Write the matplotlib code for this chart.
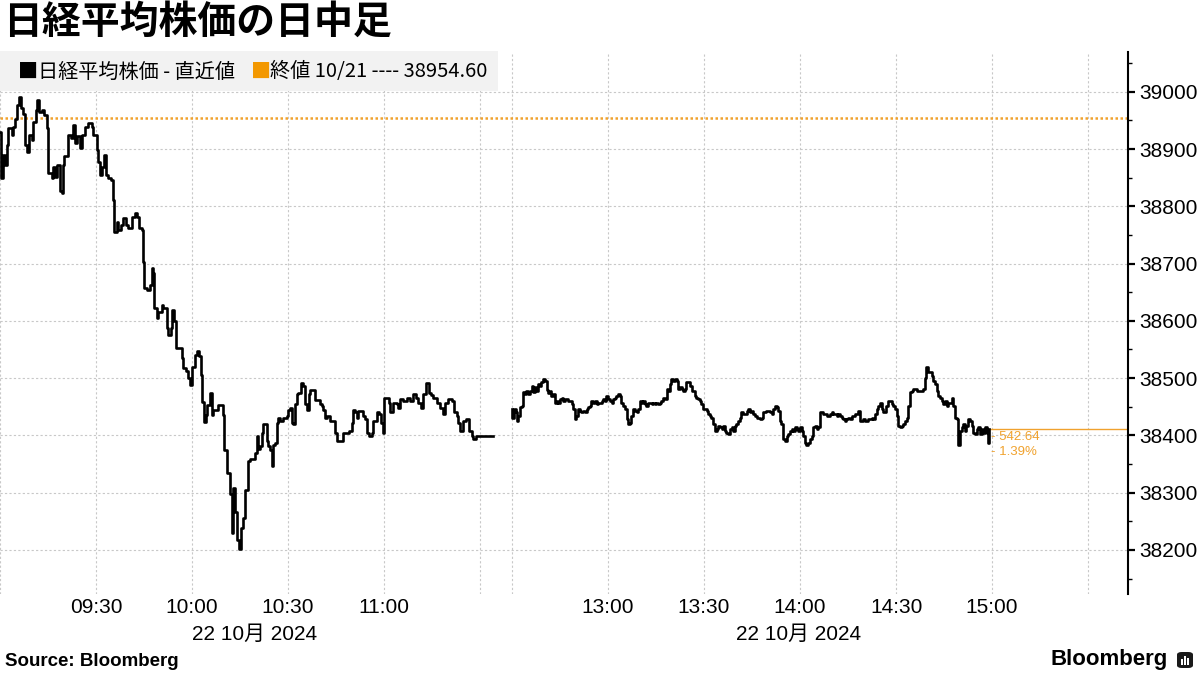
import matplotlib.pyplot as plt
from matplotlib.patches import Rectangle, FancyBboxPatch

# 前日終値と直近値
prev_close = 38954.60
last_price = 38411.96

# 前場: 9:00からの経過分, 株価
am_min = [0.0, 0.4, 1.0, 1.6, 2.3, 2.6, 3.6, 4.2, 4.7, 5.2, 5.9, 6.5, 7.3, 7.8, 8.5, 9.1, 9.9,
          10.4, 11.1, 11.7, 12.3, 13.0, 13.9, 14.6, 15.1, 16.1, 16.7, 17.2, 17.9, 18.8, 19.3, 19.6,
          20.0, 21.4, 22.1, 22.9, 23.4, 24.2, 25.0, 25.5, 26.6, 27.6, 28.6, 29.2, 30.2, 30.7, 31.3,
          31.8, 32.5, 33.1, 33.9, 34.7, 35.2, 35.7, 36.5, 37.0, 37.7, 38.5, 39.4, 40.1, 41.1, 42.2,
          42.9, 43.5, 44.3, 44.8, 45.1, 45.8, 46.9, 47.4, 47.9, 48.2, 49.0, 49.5, 50.5, 51.0, 52.1,
          52.6, 53.3, 53.9, 54.4, 54.9, 56.3, 56.8, 57.3, 58.1, 58.9, 59.4, 59.9, 60.9, 61.5, 62.2,
          62.7, 63.2, 63.8, 64.3, 64.8, 65.6, 66.1, 66.7, 68.2, 69.6, 70.0, 70.8, 71.9, 72.4, 72.9,
          73.4, 74.0, 74.8, 75.2, 76.0, 76.6, 77.6, 78.1, 79.7, 80.2, 80.7, 81.3, 81.8, 82.3, 83.3,
          83.9, 84.4, 84.9, 85.4, 85.9, 86.5, 87.0, 87.5, 88.5, 89.6, 90.1, 90.6, 91.1, 91.7, 92.2,
          92.7, 93.2, 93.9, 94.8, 95.3, 95.8, 96.4, 96.9, 97.7, 98.4, 99.2, 100.0, 100.5, 101.0,
          101.6, 102.1, 103.1, 103.9, 104.7, 105.2, 106.3, 107.3, 108.3, 109.2, 109.9, 110.4, 110.9,
          111.5, 112.0, 113.0, 113.5, 114.1, 114.6, 115.3, 116.1, 116.7, 117.7, 118.4, 119.1, 119.6,
          120.0, 120.6, 121.4, 121.9, 122.9, 124.0, 124.5, 125.0, 126.0, 127.1, 128.1, 129.2, 130.0,
          130.7, 131.5, 132.3, 133.0, 133.9, 134.6, 135.4, 136.5, 137.5, 138.5, 139.1, 140.1, 141.1,
          141.9, 142.7, 143.2, 143.8, 144.8, 145.6, 146.4, 147.4, 147.9, 148.8, 154.0]
am_px = [38930, 38849, 38890, 38872, 38907, 38936, 38925, 38939, 38953, 38977, 38991, 38971, 38962,
         38907, 38895, 38924, 38916, 38948, 38968, 38985, 38965, 38968, 38959, 38936, 38858, 38849,
         38869, 38852, 38872, 38826, 38823, 38872, 38887, 38924, 38919, 38942, 38910, 38922, 38901,
         38924, 38939, 38945, 38939, 38924, 38898, 38878, 38855, 38869, 38890, 38855, 38849, 38846,
         38811, 38756, 38773, 38759, 38767, 38779, 38767, 38762, 38782, 38788, 38782, 38762, 38759,
         38703, 38657, 38654, 38663, 38692, 38683, 38622, 38605, 38616, 38628, 38622, 38587, 38576,
         38587, 38619, 38599, 38552, 38552, 38535, 38517, 38512, 38500, 38488, 38520, 38541, 38547,
         38538, 38506, 38459, 38424, 38436, 38453, 38474, 38436, 38445, 38453, 38436, 38375, 38334,
         38297, 38230, 38308, 38267, 38218, 38201, 38238, 38256, 38305, 38355, 38358, 38370, 38399,
         38376, 38381, 38405, 38419, 38390, 38381, 38375, 38346, 38384, 38387, 38422, 38431, 38425,
         38431, 38434, 38445, 38448, 38422, 38419, 38454, 38472, 38474, 38492, 38487, 38455, 38445,
         38472, 38480, 38480, 38462, 38462, 38454, 38451, 38445, 38431, 38434, 38425, 38425, 38405,
         38390, 38390, 38405, 38405, 38408, 38422, 38445, 38440, 38431, 38443, 38443, 38434, 38428,
         38405, 38399, 38405, 38425, 38440, 38437, 38422, 38405, 38466, 38466, 38457, 38440, 38457,
         38454, 38448, 38463, 38460, 38466, 38460, 38472, 38466, 38457, 38448, 38472, 38492, 38474,
         38471, 38466, 38457, 38448, 38437, 38457, 38463, 38460, 38440, 38434, 38422, 38408, 38425,
         38428, 38408, 38399, 38393, 38399, 38399]

# 後場: 12:30からの経過分, 株価
pm_min = [0.0, 0.1, 0.6, 1.2, 1.6, 2.0, 2.4, 3.0, 3.5, 4.0, 4.5, 5.0, 5.6, 6.1, 6.6, 7.1, 7.6, 8.2,
          8.7, 9.2, 9.7, 10.2, 10.8, 11.3, 11.8, 12.3, 12.9, 13.4, 13.9, 14.4, 14.9, 15.5, 16.0,
          16.5, 17.0, 17.5, 18.1, 18.6, 19.1, 19.6, 20.1, 20.7, 21.2, 21.7, 22.2, 22.7, 23.3, 23.8,
          24.3, 24.8, 25.4, 25.9, 26.4, 26.9, 27.4, 28.0, 28.5, 29.0, 29.5, 30.0, 30.6, 31.1, 31.6,
          32.1, 32.6, 33.2, 33.7, 34.2, 34.7, 35.3, 35.8, 36.3, 36.8, 37.3, 37.9, 38.4, 38.9, 39.4,
          39.9, 40.5, 41.0, 41.5, 42.0, 42.5, 43.1, 43.6, 44.1, 44.6, 45.1, 45.7, 46.2, 46.7, 47.2,
          47.8, 48.3, 48.8, 49.3, 49.8, 50.4, 50.9, 51.4, 51.9, 52.4, 53.0, 53.5, 54.0, 54.5, 55.0,
          55.6, 56.1, 56.6, 57.1, 57.6, 58.2, 58.7, 59.2, 59.7, 60.3, 60.8, 61.3, 61.8, 62.3, 62.9,
          63.4, 63.9, 64.4, 64.9, 65.5, 66.0, 66.5, 67.0, 67.5, 68.1, 68.6, 69.1, 69.6, 70.1, 70.7,
          71.2, 71.7, 72.3, 73.3, 73.8, 74.3, 74.9, 75.4, 75.9, 76.4, 77.5, 78.0, 78.5, 79.5, 80.6,
          81.1, 81.6, 82.1, 82.7, 83.2, 83.7, 84.2, 84.8, 85.3, 85.8, 86.3, 86.8, 87.4, 87.9, 88.4,
          88.9, 89.4, 90.0, 90.5, 91.0, 91.5, 92.0, 92.6, 93.1, 93.6, 94.1, 94.6, 95.2, 95.7, 96.2,
          97.3, 98.3, 99.3, 99.9, 100.4, 101.4, 101.9, 102.5, 103.0, 103.5, 104.0, 104.5, 105.1,
          105.6, 106.1, 107.2, 108.2, 108.7, 109.8, 110.3, 111.3, 112.4, 112.9, 113.4, 113.9, 114.4,
          115.0, 115.5, 116.0, 117.0, 117.6, 118.1, 118.6, 119.1, 119.7, 120.2, 120.7, 121.2, 121.7,
          122.3, 122.8, 123.3, 123.8, 124.3, 124.9, 125.4, 126.4, 127.5, 128.5, 129.0, 129.5, 130.1,
          130.6, 131.1, 131.6, 132.1, 132.7, 133.2, 133.7, 134.2, 134.8, 135.3, 135.8, 136.3, 136.8,
          137.4, 137.9, 138.4, 138.9, 139.4, 140.0, 140.5, 141.0, 141.5, 142.0, 142.6, 143.1, 143.6,
          144.1, 144.6, 145.2, 145.7, 146.2, 146.7, 147.3, 147.8, 148.3, 148.8, 149.1]
pm_px = [38446, 38431, 38446, 38440, 38425, 38434, 38449, 38452, 38475, 38472, 38478, 38472, 38478,
         38487, 38475, 38484, 38478, 38490, 38487, 38493, 38498, 38495, 38480, 38474, 38477, 38469,
         38472, 38457, 38460, 38457, 38463, 38466, 38460, 38463, 38463, 38460, 38460, 38454, 38446,
         38428, 38434, 38446, 38443, 38440, 38443, 38440, 38446, 38449, 38452, 38460, 38457, 38460,
         38454, 38457, 38457, 38460, 38463, 38460, 38469, 38463, 38460, 38457, 38463, 38466, 38469,
         38472, 38469, 38457, 38452, 38446, 38428, 38419, 38422, 38434, 38446, 38443, 38440, 38446,
         38460, 38457, 38460, 38454, 38452, 38457, 38457, 38454, 38457, 38454, 38457, 38454, 38457,
         38460, 38466, 38463, 38481, 38478, 38490, 38498, 38495, 38498, 38495, 38481, 38484, 38481,
         38478, 38481, 38493, 38493, 38487, 38478, 38478, 38469, 38466, 38463, 38460, 38454, 38446,
         38446, 38443, 38437, 38434, 38431, 38419, 38408, 38411, 38417, 38414, 38411, 38417, 38408,
         38405, 38402, 38411, 38414, 38408, 38417, 38420, 38425, 38431, 38440, 38437, 38443, 38446,
         38440, 38443, 38437, 38434, 38431, 38428, 38431, 38440, 38443, 38440, 38437, 38446, 38451,
         38449, 38443, 38425, 38419, 38393, 38390, 38399, 38402, 38408, 38411, 38408, 38414, 38411,
         38408, 38414, 38408, 38399, 38387, 38384, 38387, 38393, 38399, 38414, 38417, 38411, 38414,
         38440, 38437, 38434, 38437, 38440, 38437, 38434, 38437, 38434, 38431, 38428, 38425, 38428,
         38431, 38428, 38434, 38437, 38443, 38425, 38428, 38425, 38428, 38431, 38428, 38437, 38446,
         38451, 38457, 38446, 38440, 38451, 38460, 38460, 38454, 38451, 38446, 38434, 38416, 38414,
         38416, 38419, 38425, 38431, 38451, 38475, 38478, 38481, 38478, 38478, 38481, 38501, 38519,
         38510, 38510, 38504, 38495, 38490, 38478, 38469, 38466, 38460, 38454, 38460, 38451, 38457,
         38457, 38466, 38451, 38431, 38428, 38384, 38408, 38414, 38420, 38408, 38417, 38428, 38425,
         38417, 38405, 38402, 38411, 38414, 38402, 38411, 38405, 38414, 38405, 38387, last_price]

# 横軸: 昼休み(11:30-12:30)を10分ぶんに詰める
PM_START = 160
tick_pos = [0, 30, 60, 90, 120, 150, 160, 190, 220, 250, 280, 310, 340]
tick_lab = ['', '09:30', '10:00', '10:30', '11:00', '', '', '13:00', '13:30', '14:00', '14:30', '15:00', '']
date_lab = '22 10月 2024'
date_pos = [79.4, 249.4]
y_ticks = [38200, 38300, 38400, 38500, 38600, 38700, 38800, 38900, 39000]
y_minor = [38150, 38250, 38350, 38450, 38550, 38650, 38750, 38850, 38950, 39050]

ORANGE = '#f0a22e'

plt.rcParams['font.family'] = ['Liberation Sans', 'Noto Sans CJK JP']

fig = plt.figure(figsize=(12, 6.75), dpi=100)
ax = fig.add_axes([0, 0.12, 0.9398, 0.8034])

pm_x = [m + PM_START for m in pm_min]
ax.plot(am_min, am_px, color='black', lw=1.9, drawstyle='steps-post', zorder=3)
ax.plot(pm_x, pm_px, color='black', lw=1.9, drawstyle='steps-post', zorder=3)

# 前日終値 (点線) と 直近値 (実線)
ax.axhline(prev_close, color=ORANGE, ls=(0, (1, 1)), lw=1.8, zorder=2)
ax.set_xlim(0, 352.4)
ax.set_ylim(38123, 39070)
ax.plot([pm_x[-1], 352.4], [last_price, last_price], color=ORANGE, lw=1, zorder=2)

chg = prev_close - last_price
pct = chg / prev_close * 100
ax.annotate(f'- {chg:.2f}\n- {pct:.2f}%', xy=(pm_x[-1], last_price), xytext=(1, -2),
            textcoords='offset points', ha='left', va='top', fontsize=9.5,
            color=ORANGE, linespacing=1.25)

# 軸
for s in ['top', 'left', 'bottom']:
    ax.spines[s].set_visible(False)
ax.spines['right'].set_linewidth(1.5)
ax.yaxis.tick_right()
ax.set_yticks(y_ticks)
ax.set_yticks(y_minor, minor=True)
ax.tick_params(axis='y', which='major', length=5, width=1.6, pad=3, labelsize=15)
ax.tick_params(axis='y', which='minor', length=3, width=1)
ax.set_xticks(tick_pos)
ax.set_xticklabels(tick_lab)
ax.tick_params(axis='x', length=0, pad=3, labelsize=15)
ax.grid(True, color='#c8c8c8', ls=(0, (2, 2)), lw=0.8)
ax.set_axisbelow(True)

for p in date_pos:
    ax.text(p, -0.074, date_lab, transform=ax.get_xaxis_transform(),
            ha='center', va='center', fontsize=15)

# 凡例 (上部の灰色の帯)
def fx(px):
    return px / 1200

def fy(py):
    return 1 - py / 675

fig.patches.append(Rectangle((0, fy(91)), fx(498), fy(51) - fy(91), transform=fig.transFigure,
                             facecolor='#f2f2f2', edgecolor='none', zorder=5))
fig.text(fx(18), fy(72), '■', color='black', fontsize=14.5, va='center', zorder=6,
         family=['Noto Sans CJK JP'])
fig.text(fx(38), fy(72), '日経平均株価 - 直近値', fontsize=14.5, va='center', zorder=6,
         family=['Noto Sans CJK JP'])
fig.text(fx(251), fy(72), '■', color='#f39800', fontsize=14.5, va='center', zorder=6,
         family=['Noto Sans CJK JP'])
fig.text(fx(270), fy(72), '終値 10/21 ---- 38954.60', fontsize=14.5, va='center', zorder=6,
         family=['Noto Sans CJK JP'])

# タイトル, 出典, ロゴ
fig.text(fx(3), fy(22), '日経平均株価の日中足', fontsize=28, fontweight='bold', va='center',
         family=['Noto Sans CJK JP'])
fig.text(fx(5), fy(662), 'Source: Bloomberg', fontsize=13.5, fontweight='bold', va='center')
fig.text(fx(1168), fy(660), 'Bloomberg', fontsize=16, fontweight='bold', va='center', ha='right')
fig.patches.append(FancyBboxPatch((fx(1177), fy(668)), fx(16), fy(652) - fy(668),
                                  boxstyle='round,pad=0,rounding_size=0.004',
                                  transform=fig.transFigure, facecolor='#1a1a1a', edgecolor='none'))
for bx, bh in [(1181, 6), (1184, 9), (1187, 7)]:
    fig.patches.append(Rectangle((fx(bx), fy(665)), fx(1.6), fy(665 - bh) - fy(665),
                                 transform=fig.transFigure, facecolor='white', edgecolor='none'))

fig.savefig('out.png', dpi=100)
